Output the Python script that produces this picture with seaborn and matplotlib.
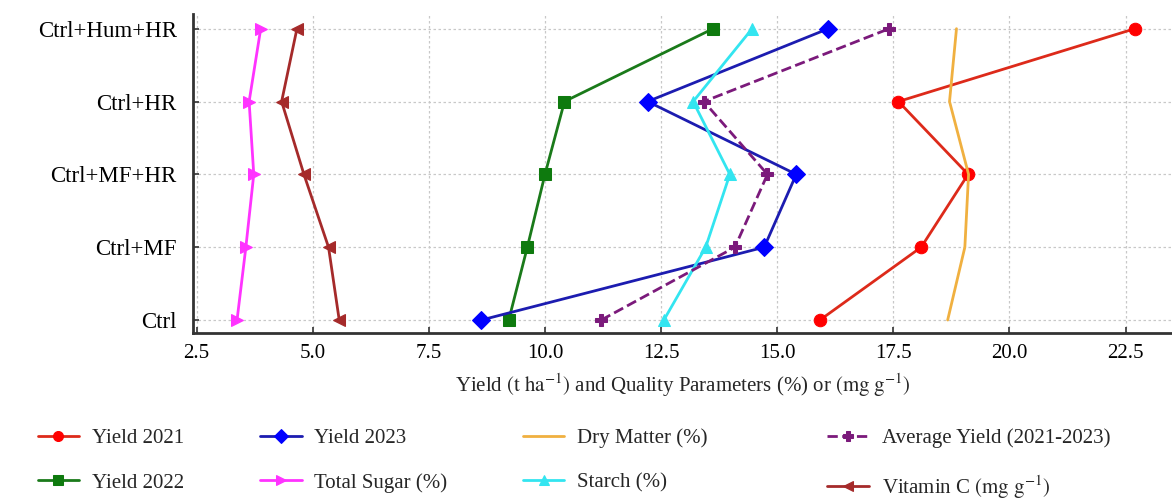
import matplotlib
matplotlib.use("Agg")
import matplotlib.pyplot as plt
import seaborn as sns
import numpy as np
import pandas as pd

# ---- data ----
categories = ["Ctrl", "Ctrl+MF", "Ctrl+MF+HR", "Ctrl+HR", "Ctrl+Hum+HR"]
yield_2021 = [15.92, 18.10, 19.11, 17.61, 22.70]
yield_2022 = [9.22, 9.62, 10.00, 10.42, 13.62]
yield_2023 = [8.63, 14.72, 15.41, 12.21, 16.10]
total_sugar = [3.37, 3.56, 3.73, 3.63, 3.88]
dry_matter = [18.67, 19.04, 19.12, 18.71, 18.86]
starch = [12.56, 13.46, 13.98, 13.19, 14.46]
avg_yield = [11.21, 14.09, 14.79, 13.42, 17.41]
vitamin_c = [5.57, 5.34, 4.81, 4.33, 4.66]
xticks = [2.5, 5.0, 7.5, 10.0, 12.5, 15.0, 17.5, 20.0, 22.5]

sns.set_theme(style="white")
plt.rcParams['font.family'] = ['Liberation Serif', 'DejaVu Serif']
plt.rcParams['mathtext.fontset'] = 'stix'

fig = plt.figure(figsize=(11.72, 5.04), dpi=100)
ax = fig.add_axes([0.165, 0.339, 0.835, 0.633])

ypos = np.arange(len(categories))

series = [
    ("Yield 2021", yield_2021, "#dd2a1a", "#ff0000", "o", "-", 9),
    ("Yield 2022", yield_2022, "#1a7a1a", "#0e7a0e", "s", "-", 9),
    ("Yield 2023", yield_2023, "#1c1cb0", "#0000ff", "D", "-", 9),
    ("Total Sugar (%)", total_sugar, "#ff33ff", "#ff33ff", ">", "-", 9),
    ("Dry Matter (%)", dry_matter, "#f0b040", "#f0b040", None, "-", 0),
    ("Starch (%)", starch, "#33e5f0", "#33e5f0", "^", "-", 9),
    ("Average Yield (2021-2023)", avg_yield, "#7b1a7b", "#7b1a7b", "P", "--", 9),
    ("Vitamin C $\\mathrm{(mg\\ g^{-1})}$", vitamin_c, "#a52a2a", "#a52a2a", "<", "-", 9),
]

for name, vals, lc, mc, mk, ls, ms in series:
    df = pd.DataFrame({"x": vals, "y": ypos})
    kw = dict(marker=mk, markersize=ms, markerfacecolor=mc, markeredgecolor=mc) if mk else {}
    sns.lineplot(data=df, x="x", y="y", orient="y", sort=False, ax=ax, color=lc,
                 linewidth=2, linestyle=ls, label=name, **kw)

ax.set_xlim(2.43, 23.5)
ax.set_ylim(-0.18, 4.2)
ax.set_xticks(xticks)
ax.set_xticklabels([f"{t:.1f}" for t in xticks])
ax.set_yticks(ypos)
ax.set_yticklabels(categories)
ax.tick_params(axis="x", labelsize=15, direction="in", length=4, width=1.2,
               colors="#333333", bottom=True, pad=8)
ax.tick_params(axis="y", labelsize=16.5, direction="in", length=4, width=1.2,
               colors="#333333", left=True, pad=12)
ax.tick_params(axis="both", labelcolor="black")
ax.grid(True, linestyle=(0, (2, 2)), color="#c8c8c8", linewidth=0.9)
for s in ["top", "right"]:
    ax.spines[s].set_visible(False)
for s in ["left", "bottom"]:
    ax.spines[s].set_color("#333333")
    ax.spines[s].set_linewidth(2)
ax.set_ylabel("")
ax.set_xlabel("Yield $\\mathrm{(t\\ ha^{-1})}$ and Quality Parameters (%) or $\\mathrm{(mg\\ g^{-1})}$",
              fontsize=15, labelpad=6)

h, l = ax.get_legend_handles_labels()
ax.get_legend().remove()
col_x = [0.032, 0.222, 0.446, 0.706]
for c in range(4):
    fig.legend(h[2 * c:2 * c + 2], l[2 * c:2 * c + 2], loc="upper left",
               bbox_to_anchor=(col_x[c], 0.15), frameon=False, fontsize=15,
               handlelength=2.0, handletextpad=0.6, labelspacing=1.2,
               borderaxespad=0, borderpad=0, markerscale=0.8)

fig.savefig("out.png", dpi=100)
